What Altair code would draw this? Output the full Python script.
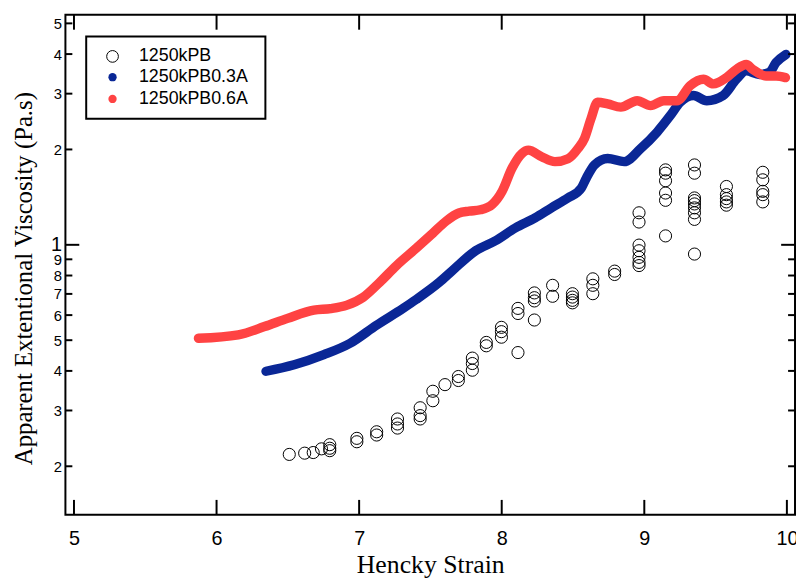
import altair as alt
import pandas as pd

# ---------------- data ----------------
# 1250kPB (open circles)
pb_x = [6.510, 6.618, 6.678, 6.736, 6.794, 6.794, 6.794, 6.984, 6.984, 7.123, 7.123,
        7.269, 7.269, 7.269, 7.428, 7.428, 7.428, 7.517, 7.517, 7.602, 7.696, 7.696,
        7.794, 7.794, 7.794, 7.892, 7.892, 7.998, 7.998, 7.998, 8.114, 8.114, 8.114,
        8.229, 8.229, 8.229, 8.229, 8.357, 8.357, 8.496, 8.496, 8.496, 8.496,
        8.639, 8.639, 8.639, 8.792, 8.792,
        8.963, 8.963, 8.963, 8.963, 8.963, 8.963, 8.963,
        9.149, 9.149, 9.149, 9.149, 9.149, 9.149,
        9.352, 9.352, 9.352, 9.352, 9.352, 9.352, 9.352, 9.352, 9.352,
        9.576, 9.576, 9.576, 9.576, 9.576,
        9.831, 9.831, 9.831, 9.831, 9.831]
pb_y = [0.218, 0.220, 0.221, 0.227, 0.234, 0.228, 0.224, 0.245, 0.239, 0.257, 0.251,
        0.282, 0.272, 0.264, 0.306, 0.289, 0.282, 0.345, 0.322, 0.362, 0.384, 0.373,
        0.439, 0.422, 0.402, 0.492, 0.480, 0.549, 0.532, 0.511, 0.630, 0.607, 0.457,
        0.705, 0.681, 0.665, 0.579, 0.745, 0.688, 0.701, 0.684, 0.668, 0.656,
        0.781, 0.745, 0.701, 0.826, 0.806,
        1.262, 1.180, 0.998, 0.958, 0.913, 0.880, 0.860,
        1.724, 1.683, 1.593, 1.457, 1.382, 1.067,
        1.787, 1.683, 1.406, 1.379, 1.346, 1.308, 1.262, 1.203, 0.935,
        1.528, 1.440, 1.399, 1.366, 1.334,
        1.694, 1.604, 1.475, 1.440, 1.366]

# 1250kPB0.3A (blue)
a3_x = [6.347, 6.544, 6.753, 6.937, 7.123, 7.308, 7.400, 7.563, 7.655, 7.817,
        7.956, 8.095, 8.234, 8.350, 8.465, 8.558, 8.593, 8.651, 8.743, 8.859,
        8.975, 9.090, 9.183, 9.252, 9.345, 9.438, 9.553, 9.646, 9.715, 9.808,
        9.877, 9.924, 9.993]
a3_y = [0.399, 0.418, 0.450, 0.489, 0.558, 0.630, 0.672, 0.762, 0.830, 0.958,
        1.030, 1.130, 1.217, 1.310, 1.406, 1.510, 1.623, 1.788, 1.873, 1.830,
        2.014, 2.270, 2.560, 2.818, 2.960, 2.850, 2.960, 3.330, 3.540, 3.450,
        3.500, 3.760, 3.990]

# 1250kPB0.6A (red)
a6_x = [5.873, 6.152, 6.336, 6.498, 6.683, 6.800, 6.915, 7.030, 7.146, 7.262,
        7.400, 7.517, 7.610, 7.700, 7.771, 7.850, 7.933, 8.003, 8.072, 8.142,
        8.187, 8.280, 8.373, 8.465, 8.535, 8.580, 8.626, 8.672, 8.743, 8.835,
        8.950, 9.044, 9.137, 9.230, 9.322, 9.415, 9.484, 9.576, 9.646, 9.715,
        9.760, 9.854, 9.924, 9.990]
a6_y = [0.507, 0.520, 0.552, 0.586, 0.622, 0.629, 0.645, 0.684, 0.763, 0.860,
        0.975, 1.088, 1.188, 1.260, 1.277, 1.290, 1.340, 1.475, 1.744, 1.943,
        1.990, 1.897, 1.830, 1.870, 2.014, 2.165, 2.500, 2.818, 2.785, 2.720,
        2.850, 2.750, 2.850, 2.850, 3.180, 3.330, 3.220, 3.370, 3.580, 3.710,
        3.580, 3.410, 3.410, 3.370]

legend_labels = ["1250kPB", "1250kPB0.3A", "1250kPB0.6A"]
x_tick_values = [5, 6, 7, 8, 9, 10]
y_minor_ticks = [0.2, 0.3, 0.4, 0.5, 0.6, 0.7, 0.8, 0.9, 2, 3, 4, 5]
y_major_ticks = [1]
y_label_values = [0.2, 0.3, 0.4, 0.5, 0.6, 0.7, 0.8, 0.9, 1, 2, 3, 4, 5]

BLUE = "#0a2796"
RED = "#ff4343"
W, H = 737, 505

xs = alt.Scale(domain=[4.94, 10.057], nice=False, zero=False)
ys = alt.Scale(type="log", domain=[0.1406, 5.32], nice=False)

x_axis = alt.Axis(values=x_tick_values, format="d", title="Hencky Strain", ticks=False, tickSize=0,
                  domain=False, grid=False, labelFont="Liberation Sans", labelFontSize=20,
                  labelPadding=14, labelFlush=False, labelOverlap=False, labelColor="black",
                  titleFont="Liberation Serif", titleFontSize=26, titleFontWeight="normal",
                  titleColor="black", titleY=58, titleBaseline="alphabetic")
y_axis = alt.Axis(values=y_label_values, title="Apparent Extentional Viscosity (Pa.s)",
                  ticks=False, tickSize=0, domain=False, grid=False,
                  labelFont="Liberation Sans",
                  labelFontSize=alt.condition("datum.value == 1", alt.value(20), alt.value(15)),
                  labelExpr="datum.value < 1 ? '' + round(datum.value * 10) : '' + datum.value",
                  labelPadding=4, labelFlush=False, labelOverlap=False, labelColor="black",
                  titleFont="Liberation Serif", titleFontSize=25, titleFontWeight="normal",
                  titleColor="black", titleAngle=270, titleX=-34, titleY=266,
                  titleAlign="center", titleBaseline="alphabetic")

pb_df = pd.DataFrame({"x": pb_x, "y": pb_y})
a3_df = pd.DataFrame({"x": a3_x, "y": a3_y})
a6_df = pd.DataFrame({"x": a6_x, "y": a6_y})

circles = alt.Chart(pb_df).mark_point(shape="circle", filled=False, size=150,
                                      stroke="black", strokeWidth=1, opacity=1).encode(
    x=alt.X("x:Q", scale=xs, axis=x_axis),
    y=alt.Y("y:Q", scale=ys, axis=y_axis),
)
blue_line = alt.Chart(a3_df).mark_line(color=BLUE, strokeWidth=9.5, strokeCap="round",
                                       strokeJoin="round", interpolate="monotone").encode(
    x=alt.X("x:Q", scale=xs), y=alt.Y("y:Q", scale=ys))
red_line = alt.Chart(a6_df).mark_line(color=RED, strokeWidth=9.5, strokeCap="round",
                                      strokeJoin="round", interpolate="monotone").encode(
    x=alt.X("x:Q", scale=xs), y=alt.Y("y:Q", scale=ys))

# inner tick marks on all four sides
ymin_df = pd.DataFrame({"v": y_minor_ticks})
ymaj_df = pd.DataFrame({"v": y_major_ticks})
xt_df = pd.DataFrame({"v": x_tick_values})
tick_style = dict(color="black", strokeWidth=2)
ticks = [
    alt.Chart(ymin_df).mark_rule(**tick_style).encode(
        y=alt.Y("v:Q", scale=ys), x=alt.value(0), x2=alt.value(7)),
    alt.Chart(ymin_df).mark_rule(**tick_style).encode(
        y=alt.Y("v:Q", scale=ys), x=alt.value(W - 7), x2=alt.value(W)),
    alt.Chart(ymaj_df).mark_rule(**tick_style).encode(
        y=alt.Y("v:Q", scale=ys), x=alt.value(0), x2=alt.value(14)),
    alt.Chart(ymaj_df).mark_rule(**tick_style).encode(
        y=alt.Y("v:Q", scale=ys), x=alt.value(W - 14), x2=alt.value(W)),
    alt.Chart(xt_df).mark_rule(**tick_style).encode(
        x=alt.X("v:Q", scale=xs), y=alt.value(H - 15), y2=alt.value(H)),
    alt.Chart(xt_df).mark_rule(**tick_style).encode(
        x=alt.X("v:Q", scale=xs), y=alt.value(0), y2=alt.value(15)),
]

# legend
leg_df = pd.DataFrame({"label": legend_labels})
leg_box = alt.Chart(leg_df.head(1)).mark_rect(fill="white", stroke="black", strokeWidth=2).encode(
    x=alt.value(21), x2=alt.value(202), y=alt.value(22), y2=alt.value(105))
leg_rows_y = [42.0, 63.0, 85.0]
leg_layers = [leg_box]
leg_layers.append(alt.Chart(leg_df.iloc[[0]]).mark_point(
    shape="circle", filled=False, size=140, stroke="black", strokeWidth=1, opacity=1).encode(
    x=alt.value(47.6), y=alt.value(leg_rows_y[0])))
leg_layers.append(alt.Chart(leg_df.iloc[[1]]).mark_circle(size=70, color=BLUE, opacity=1).encode(
    x=alt.value(47.6), y=alt.value(leg_rows_y[1])))
leg_layers.append(alt.Chart(leg_df.iloc[[2]]).mark_circle(size=70, color=RED, opacity=1).encode(
    x=alt.value(47.6), y=alt.value(leg_rows_y[2])))
for i in range(3):
    leg_layers.append(alt.Chart(leg_df.iloc[[i]]).mark_text(
        align="left", baseline="middle", font="Liberation Sans", fontSize=18, color="black").encode(
        text="label:N", x=alt.value(74.3), y=alt.value(leg_rows_y[i])))

chart = alt.layer(circles, blue_line, red_line, *ticks, *leg_layers).properties(
    width=W, height=H,
    background="white",
    autosize=alt.AutoSizeParams(type="none"),
    padding={"left": 58, "top": 4, "right": 1, "bottom": 63},
).configure_view(stroke="black", strokeWidth=2)

chart.save("out.html", embed_options={"renderer": "svg", "actions": False})
